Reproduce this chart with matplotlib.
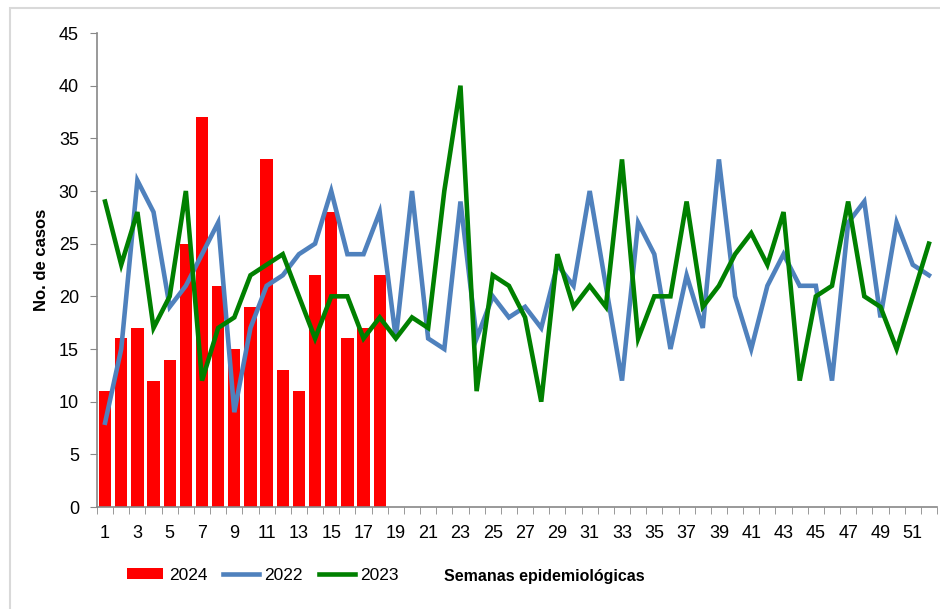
import matplotlib
matplotlib.use('Agg')
import matplotlib.pyplot as plt
from matplotlib.patches import Rectangle, Patch
from matplotlib.lines import Line2D

plt.rcParams['font.family'] = ['Liberation Sans', 'DejaVu Sans']

# semanas epidemiologicas
weeks = list(range(1, 53))
weeks_2024 = list(range(1, 19))

# casos 2024 (barras)
cases_2024 = [11, 16, 17, 12, 14, 25, 37, 21, 15, 19, 33, 13, 11, 22, 28, 16, 17, 22]

# casos 2022 (linea azul)
cases_2022 = [8, 15, 31, 28, 19, 21, 24, 27, 9, 17, 21, 22, 24, 25, 30, 24,
              24, 28, 16, 30, 16, 15, 29, 16, 20, 18, 19, 17, 23, 21, 30, 21,
              12, 27, 24, 15, 22, 17, 33, 20, 15, 21, 24, 21, 21, 12, 27, 29,
              18, 27, 23, 22]

# casos 2023 (linea verde)
cases_2023 = [29, 23, 28, 17, 20, 30, 12, 17, 18, 22, 23, 24, 20, 16, 20, 20,
              16, 18, 16, 18, 17, 30, 40, 11, 22, 21, 18, 10, 24, 19, 21, 19,
              33, 16, 20, 20, 29, 19, 21, 24, 26, 23, 28, 12, 20, 21, 29, 20,
              19, 15, 20, 25]

xtick_labels = [str(w) for w in range(1, 52, 2)]
yticks = list(range(0, 46, 5))

fig = plt.figure(figsize=(9.4, 6.09), dpi=100)
fig.patch.set_facecolor('white')
# marco gris claro alrededor del grafico
fig.add_artist(Rectangle((10 / 940, -0.01), 1.0, 1 - 8 / 609 + 0.01,
                         transform=fig.transFigure, fill=False,
                         edgecolor='#d9d9d9', linewidth=1.5))

ax = fig.add_axes([97 / 940, 102 / 609, 840 / 940, 474 / 609])

ax.bar(weeks_2024, cases_2024, width=0.76, color='#ff0000', zorder=2)
ax.plot(weeks, cases_2022, color='#4f81bd', linewidth=3.3, zorder=3,
        solid_joinstyle='miter')
ax.plot(weeks, cases_2023, color='#008000', linewidth=3.3, zorder=4,
        solid_joinstyle='miter')

ax.set_xlim(0.5, 52.5)
ax.set_ylim(0, 45)
ax.set_yticks(yticks)
ax.set_yticklabels([str(v) for v in yticks], fontsize=13)
ax.set_xticks(list(range(1, 52, 2)))
ax.set_xticklabels(xtick_labels, fontsize=13)
ax.tick_params(axis='x', which='major', length=0, pad=13)
ax.set_xticks([w + 0.5 for w in range(0, 53)], minor=True)
ax.tick_params(axis='x', which='minor', length=5, color='#888888',
               direction='out')
ax.tick_params(axis='y', length=5, color='#888888', pad=8)

for s in ['top', 'right']:
    ax.spines[s].set_visible(False)
for s in ['left', 'bottom']:
    ax.spines[s].set_color('#888888')
    ax.spines[s].set_linewidth(1.2)

fig.text(42 / 940, 1 - 260 / 609, 'No. de casos', rotation=90,
         ha='center', va='center', fontsize=12, fontweight='bold')
fig.text(544 / 940, 1 - 577 / 609, 'Semanas epidemiológicas',
         ha='center', va='center', fontsize=11.5, fontweight='bold')

handles = [Patch(facecolor='#ff0000', label='2024'),
           Line2D([], [], color='#4f81bd', linewidth=3.3, label='2022'),
           Line2D([], [], color='#008000', linewidth=3.3, label='2023')]
fig.legend(handles=handles, loc='center left',
           bbox_to_anchor=(127 / 940, 1 - 575 / 609), ncol=3, frameon=False,
           fontsize=12.5, handlelength=2.1, handleheight=0.6,
           handletextpad=0.3, columnspacing=0.9, borderaxespad=0,
           borderpad=0)

fig.savefig('out.png', dpi=100)
